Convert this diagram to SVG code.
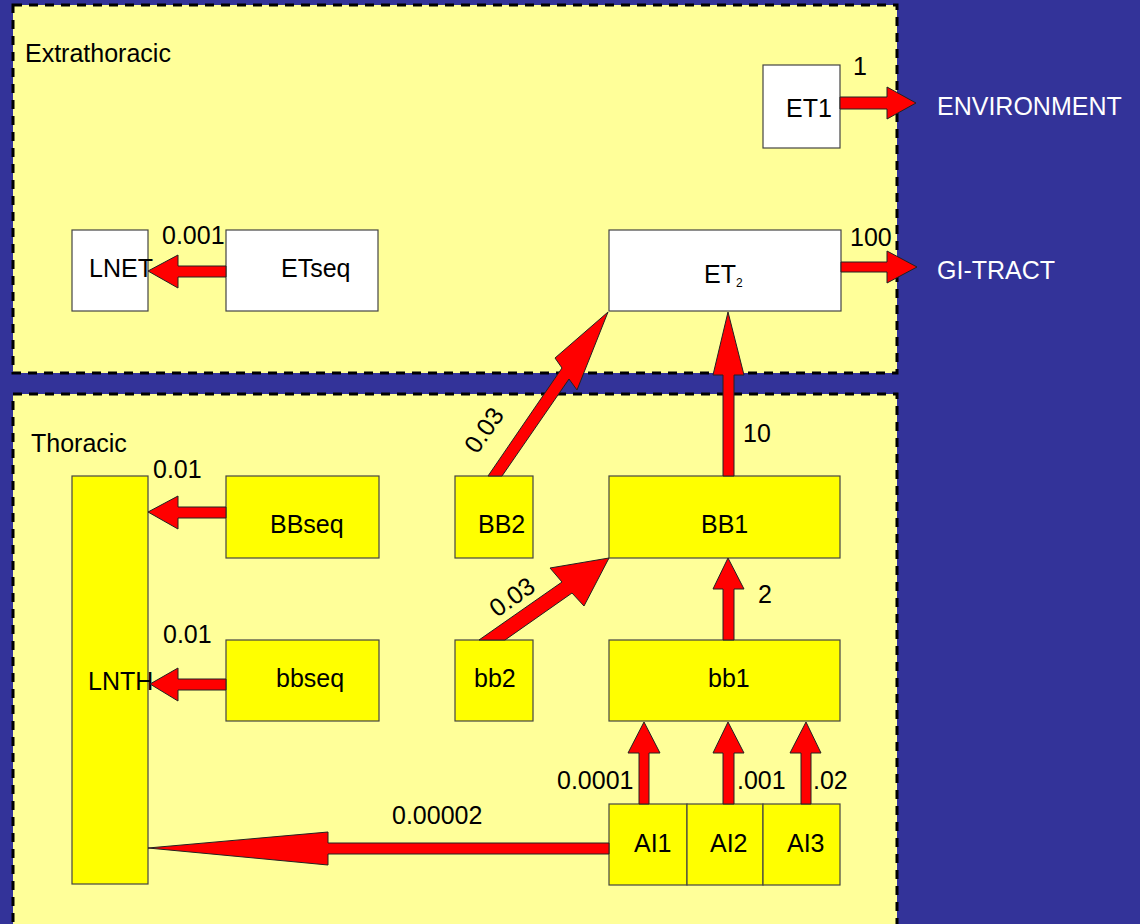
<svg xmlns="http://www.w3.org/2000/svg" width="1140" height="924" viewBox="0 0 1140 924">
<style>
text{font-family:"Liberation Sans",Arial,sans-serif;font-size:25px;fill:#000}
.panel{fill:#FFFF99;stroke:#000;stroke-width:3;stroke-dasharray:9 7}
.w{fill:#FFFFFF;stroke:#444;stroke-width:1.2}
.y{fill:#FFFF00;stroke:#444;stroke-width:1.2}
.arr{fill:#FF0000;stroke:#222;stroke-width:1}
.wt{fill:#FFFFFF}
</style>
<rect x="0" y="0" width="1140" height="924" fill="#333399"/>
<g id="extrathoracic">
<rect class="panel" x="13" y="5" width="884" height="368"/>
<text x="25" y="62">Extrathoracic</text>
</g>
<g id="thoracic">
<rect class="panel" x="13" y="394" width="884" height="540"/>
<text x="31" y="452">Thoracic</text>
</g>
<g id="ET1"><rect class="w" x="763" y="65" width="77" height="83"/><text x="786" y="117">ET1</text></g>
<g id="LNET"><rect class="w" x="72" y="230" width="76" height="81"/><text x="89" y="277">LNET</text></g>
<g id="ETseq"><rect class="w" x="226" y="230" width="152" height="81"/><text x="281" y="277">ETseq</text></g>
<g id="ET2"><rect class="w" x="609" y="230" width="232" height="81"/><text x="704" y="283">ET<tspan font-size="12" dy="4">2</tspan></text></g>
<g id="ENVIRONMENT"><text class="wt" x="937" y="115">ENVIRONMENT</text></g>
<g id="GI-TRACT"><text class="wt" x="937" y="279">GI-TRACT</text></g>
<g id="LNTH"><rect class="y" x="72" y="476" width="76" height="408"/><text x="88" y="690">LNTH</text></g>
<g id="BBseq"><rect class="y" x="226" y="476" width="153" height="82"/><text x="270" y="533">BBseq</text></g>
<g id="bbseq"><rect class="y" x="226" y="640" width="153" height="81"/><text x="276" y="687">bbseq</text></g>
<g id="BB2"><rect class="y" x="455" y="476" width="78" height="82"/><text x="478" y="533">BB2</text></g>
<g id="BB1"><rect class="y" x="609" y="476" width="231" height="82"/><text x="701" y="533">BB1</text></g>
<g id="bb2"><rect class="y" x="455" y="640" width="78" height="81"/><text x="474" y="687">bb2</text></g>
<g id="bb1"><rect class="y" x="609" y="640" width="231" height="81"/><text x="708" y="687">bb1</text></g>
<g id="AI1"><rect class="y" x="609" y="804" width="78" height="81"/><text x="634" y="852">AI1</text></g>
<g id="AI2"><rect class="y" x="687" y="804" width="76" height="81"/><text x="710" y="852">AI2</text></g>
<g id="AI3"><rect class="y" x="763" y="804" width="77" height="81"/><text x="787" y="852">AI3</text></g>
<g id="connectors">
<polygon class="arr" points="840,97 887,97 887,87 916,103 887,119 887,109 840,109"/>
<text x="853" y="75">1</text>
<polygon class="arr" points="841,262 887,262 887,251 917,267 887,283 887,272 841,272"/>
<text x="850" y="246">100</text>
<polygon class="arr" points="226,266 178,266 178,255 148,271 178,288 178,277 226,277"/>
<text x="162" y="244">0.001</text>
<polygon class="arr" points="226,507 178,507 178,496 148,512 178,529 178,518 226,518"/>
<text x="153" y="478">0.01</text>
<polygon class="arr" points="226,679 178,679 178,668 150,684 178,701 178,690 226,690"/>
<text x="163" y="643">0.01</text>
<polygon class="arr" points="609,843 328,843 328,832 148,848 328,865 328,854 609,854"/>
<text x="392" y="824">0.00002</text>
<polygon class="arr" points="723,476 723,375 713,375 728,312 744,375 734,375 734,476"/>
<text x="743" y="442">10</text>
<polygon class="arr" points="723,640 723,589 713,589 728,558 744,589 734,589 734,640"/>
<text x="758" y="603">2</text>
<polygon class="arr" points="639,804 639,753 628,753 644,722 660,753 649,753 649,804"/>
<text x="557" y="789">0.0001</text>
<polygon class="arr" points="723,804 723,753 713,753 728,722 744,753 734,753 734,804"/>
<text x="737" y="789">.001</text>
<polygon class="arr" points="801,804 801,753 790,753 806,722 821,753 811,753 811,804"/>
<text x="813" y="789">.02</text>
<polygon class="arr" points="488,476 562,368 555,358 608,312 577,390 569,379 502,476"/>
<text x="491" y="435" text-anchor="middle" transform="rotate(-55 491 435)">0.03</text>
<polygon class="arr" points="479,640 562,582 550,568 609,558 584,606 572,593 505,640"/>
<text x="517" y="604" text-anchor="middle" transform="rotate(-35 517 604)">0.03</text>
</g>
</svg>
